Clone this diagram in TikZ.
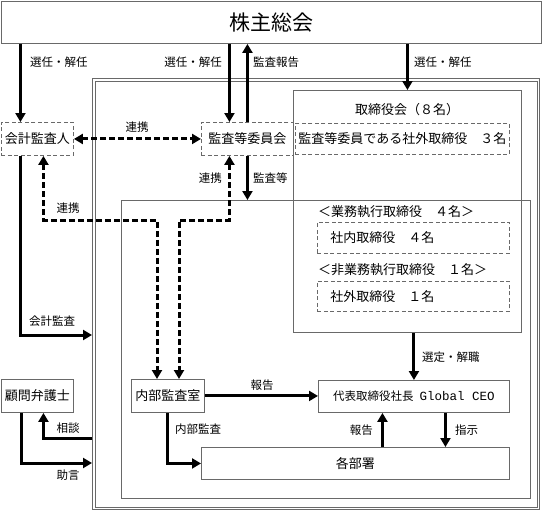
\documentclass[tikz,border=0pt]{standalone}
\usepackage{fontspec}
\setmainfont{Noto Sans CJK JP}
\newfontfamily\monofnt{Liberation Mono}
\usetikzlibrary{arrows.meta}
\definecolor{boxgray}{RGB}{105,105,105}
\tikzset{
  frame/.style={draw=boxgray, line width=0.9pt, inner sep=0pt},
  bx/.style={frame, font=\fontsize{13}{15}\selectfont},
  dbx/.style={bx, dash pattern=on 4pt off 2.5pt},
  txt/.style={font=\fontsize{13}{15}\selectfont, inner sep=0pt},
  lbl/.style={font=\fontsize{11.5}{13}\selectfont, inner sep=0pt},
  tip/.tip={Triangle[length=9pt,width=10pt]},
  arr/.style={line width=3pt, -tip},
  darr/.style={line width=3pt, dash pattern=on 6pt off 3pt, tip-tip},
}
\begin{document}
\begin{tikzpicture}[x=1pt,y=-1pt]
\useasboundingbox (0,0) rectangle (542,512);

% containers
\node[frame, minimum width=447pt, minimum height=431pt, anchor=north west] (outer) at (92,78) {};
\node[frame, minimum width=442pt, minimum height=426pt, anchor=north west] (outerin) at (94.5,80.5) {};
\node[frame, minimum width=228pt, minimum height=242pt, anchor=north west] (board) at (293,90) {};
\node[frame, minimum width=409pt, minimum height=298pt, anchor=north west] (exec) at (121,200) {};

% boxes
\node[bx, minimum width=540pt, minimum height=42pt, anchor=north west, font=\fontsize{21}{24}\selectfont] (top) at (1,1) {株主総会};
\node[dbx, minimum width=72pt, minimum height=33pt, anchor=north west] (auditor) at (1,122) {会計監査人};
\node[dbx, minimum width=92pt, minimum height=33pt, anchor=north west] (committee) at (201,122) {監査等委員会};
\node[dbx, minimum width=214pt, minimum height=31pt, anchor=north west, inner xsep=3pt, text width=208pt, align=left] (outside3) at (295,123) {監査等委員である社外取締役　３名};
\node[txt] (boardlbl) at (407,110) {取締役会（８名）};
\node[txt, anchor=west] (execlbl) at (318,212) {＜業務執行取締役　４名＞};
\node[dbx, minimum width=192pt, minimum height=31pt, anchor=north west, inner xsep=13pt, text width=166pt, align=left] (inside4) at (317,222) {社内取締役　４名};
\node[txt, anchor=west] (nonexeclbl) at (318,270) {＜非業務執行取締役　１名＞};
\node[dbx, minimum width=192pt, minimum height=30pt, anchor=north west, inner xsep=13pt, text width=166pt, align=left] (outside1) at (317,281) {社外取締役　１名};
\node[bx, minimum width=73pt, minimum height=33pt, anchor=north west] (ia) at (131,379) {内部監査室};
\node[bx, minimum width=191pt, minimum height=32pt, anchor=north west] (ceo) at (318,380) {{\fontsize{11.5}{13}\selectfont 代表取締役社長}\hspace{6pt}{\monofnt\fontsize{12.5}{14}\selectfont Global CEO}};
\node[bx, minimum width=308pt, minimum height=32pt, anchor=north west] (depts) at (201,447) {各部署};
\node[bx, minimum width=72pt, minimum height=33pt, anchor=north west] (lawyer) at (1,379) {顧問弁護士};

% free ends
\coordinate (audin) at (92,335);
\coordinate (lawin) at (92,438);
\coordinate (lawout) at (92,463);
\coordinate (j1) at (157,220);
\coordinate (j2) at (179,220);

% connectors
\draw[arr] ([xshift=-17pt]auditor.north |- top.south) -- ([xshift=-17pt]auditor.north);
\draw[arr] ([xshift=-18pt]committee.north |- top.south) -- ([xshift=-18pt]committee.north);
\draw[arr] (committee.north) -- (committee.north |- top.south);
\draw[arr] (board.north |- top.south) -- (board.north);
\draw[darr] (auditor.east) -- (committee.west);
\draw[arr] ([xshift=-17pt]auditor.south) |- (audin);
\draw[arr] (committee.south) -- (committee.south |- exec.north);
\draw[darr] ([xshift=6pt]auditor.south) |- (j1) -- (j1 |- ia.north);
\draw[darr] ([xshift=-18pt]committee.south) |- (j2) -- (j2 |- ia.north);
\draw[arr] (ceo.north |- board.south) -- (ceo.north);
\draw[arr] (ia.east) -- (ia.east -| ceo.west);
\draw[arr] (ia.south) |- (depts.west);
\draw[arr] ([xshift=-31.5pt]ceo.south |- depts.north) -- ([xshift=-31.5pt]ceo.south);
\draw[arr] ([xshift=31.5pt]ceo.south) -- ([xshift=31.5pt]ceo.south |- depts.north);
\draw[arr] (lawin) -| ([xshift=6pt]lawyer.south);
\draw[arr] ([xshift=-16pt]lawyer.south) |- (lawout);

% labels
\node[lbl, anchor=west] (l1) at (30,62) {選任・解任};
\node[lbl, anchor=east] (l2) at (222,62) {選任・解任};
\node[lbl, anchor=west] (l3) at (253,62) {監査報告};
\node[lbl, anchor=west] (l4) at (414,62) {選任・解任};
\node[lbl] (l5) at (137,127) {連携};
\node[lbl, anchor=west] (l6) at (29,321) {会計監査};
\node[lbl, anchor=east] (l7) at (222,178) {連携};
\node[lbl, anchor=west] (l8) at (253,178) {監査等};
\node[lbl] (l9) at (68,208) {連携};
\node[lbl, anchor=west] (l10) at (422,357) {選定・解職};
\node[lbl] (l11) at (262,385) {報告};
\node[lbl, anchor=west] (l12) at (175,429) {内部監査};
\node[lbl, anchor=east] (l13) at (373,430) {報告};
\node[lbl, anchor=west] (l14) at (455,430) {指示};
\node[lbl] (l15) at (68,428) {相談};
\node[lbl] (l16) at (68,475) {助言};
\end{tikzpicture}
\end{document}
